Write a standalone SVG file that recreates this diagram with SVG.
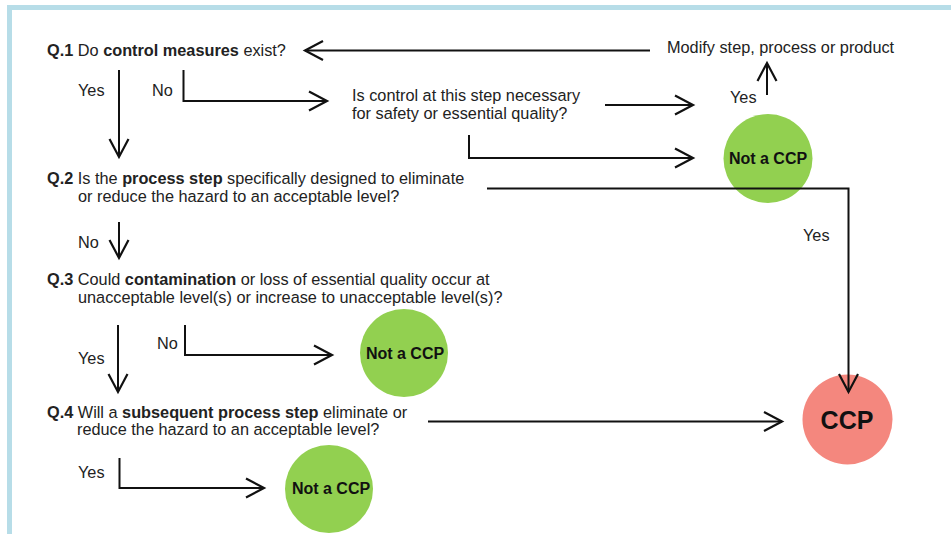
<svg xmlns="http://www.w3.org/2000/svg" width="951" height="534" viewBox="0 0 951 534">
<defs>
<marker id="ah" markerUnits="userSpaceOnUse" markerWidth="26" markerHeight="26" refX="21" refY="12" orient="auto">
<path d="M3,2.5 L21,12 L3,21.5" fill="none" stroke="#111" stroke-width="2.2"/>
</marker>
<style>
text{font-family:"Liberation Sans",Arial,sans-serif;fill:#222}
.t{font-size:16.3px}
.b{font-weight:bold}
.c{font-size:16px;font-weight:bold;text-anchor:middle;fill:#111}
.ccp{font-size:25px;font-weight:bold;text-anchor:middle;fill:#111}
.ln{fill:none;stroke:#111;stroke-width:2}
.g{fill:#92d050}
.r{fill:#f4877e}
</style>
</defs>
<rect x="0" y="0" width="951" height="534" fill="#fff"/>
<rect x="7" y="5" width="944" height="5" fill="#b7dde8"/>
<rect x="7" y="5" width="5" height="529" fill="#b7dde8"/>

<g id="q1"><text class="t" x="47" y="56"><tspan class="b">Q.1</tspan> Do <tspan class="b">control measures</tspan> exist?</text></g>
<g id="q1b"><text class="t" x="352" y="101">Is control at this step necessary</text><text class="t" x="352" y="119">for safety or essential quality?</text></g>
<g id="modify"><text class="t" x="667" y="53">Modify step, process or product</text></g>
<g id="q2"><text class="t" x="47" y="184"><tspan class="b">Q.2</tspan> Is the <tspan class="b">process step</tspan> specifically designed to eliminate</text><text class="t" x="78" y="202">or reduce the hazard to an acceptable level?</text></g>
<g id="q3"><text class="t" x="47" y="285"><tspan class="b">Q.3</tspan> Could <tspan class="b">contamination</tspan> or loss of essential quality occur at</text><text class="t" x="78" y="303">unacceptable level(s) or increase to unacceptable level(s)?</text></g>

<g id="nccp1"><circle class="g" cx="768" cy="158.5" r="44.5"/><text class="c" x="768" y="164">Not a CCP</text></g>
<g id="nccp2"><circle class="g" cx="404" cy="353" r="44"/><text class="c" x="405" y="358.5">Not a CCP</text></g>
<g id="nccp3"><circle class="g" cx="329" cy="489" r="44"/><text class="c" x="331" y="494">Not a CCP</text></g>
<g id="ccp"><circle class="r" cx="847.5" cy="419.5" r="45"/><text class="ccp" x="847" y="429">CCP</text></g>

<g id="q4"><text class="t" x="47" y="418"><tspan class="b">Q.4</tspan> Will a <tspan class="b">subsequent process step</tspan> eliminate or</text><text class="t" x="77" y="435">reduce the hazard to an acceptable level?</text></g>

<g id="labels">
<text class="t" x="78" y="96">Yes</text>
<text class="t" x="152" y="96">No</text>
<text class="t" x="730" y="103">Yes</text>
<text class="t" x="803" y="241">Yes</text>
<text class="t" x="78" y="248">No</text>
<text class="t" x="157" y="349">No</text>
<text class="t" x="78" y="364">Yes</text>
<text class="t" x="78" y="478">Yes</text>
</g>

<g id="connectors">
<path class="ln" d="M650,50.5 H305" marker-end="url(#ah)"/>
<path class="ln" d="M119,70 V157" marker-end="url(#ah)"/>
<path class="ln" d="M183.5,70 V101 H327" marker-end="url(#ah)"/>
<path class="ln" d="M605,105 H693" marker-end="url(#ah)"/>
<path class="ln" d="M469,135 V158 H693" marker-end="url(#ah)"/>
<path class="ln" d="M767,95 V63" marker-end="url(#ah)"/>
<path class="ln" d="M487,188.5 H848.5 V392" marker-end="url(#ah)"/>
<path class="ln" d="M119,222 V258" marker-end="url(#ah)"/>
<path class="ln" d="M185,325 V355 H332" marker-end="url(#ah)"/>
<path class="ln" d="M118,325 V392" marker-end="url(#ah)"/>
<path class="ln" d="M428,421.5 H782" marker-end="url(#ah)"/>
<path class="ln" d="M119.5,458 V488 H264" marker-end="url(#ah)"/>
</g>
</svg>
